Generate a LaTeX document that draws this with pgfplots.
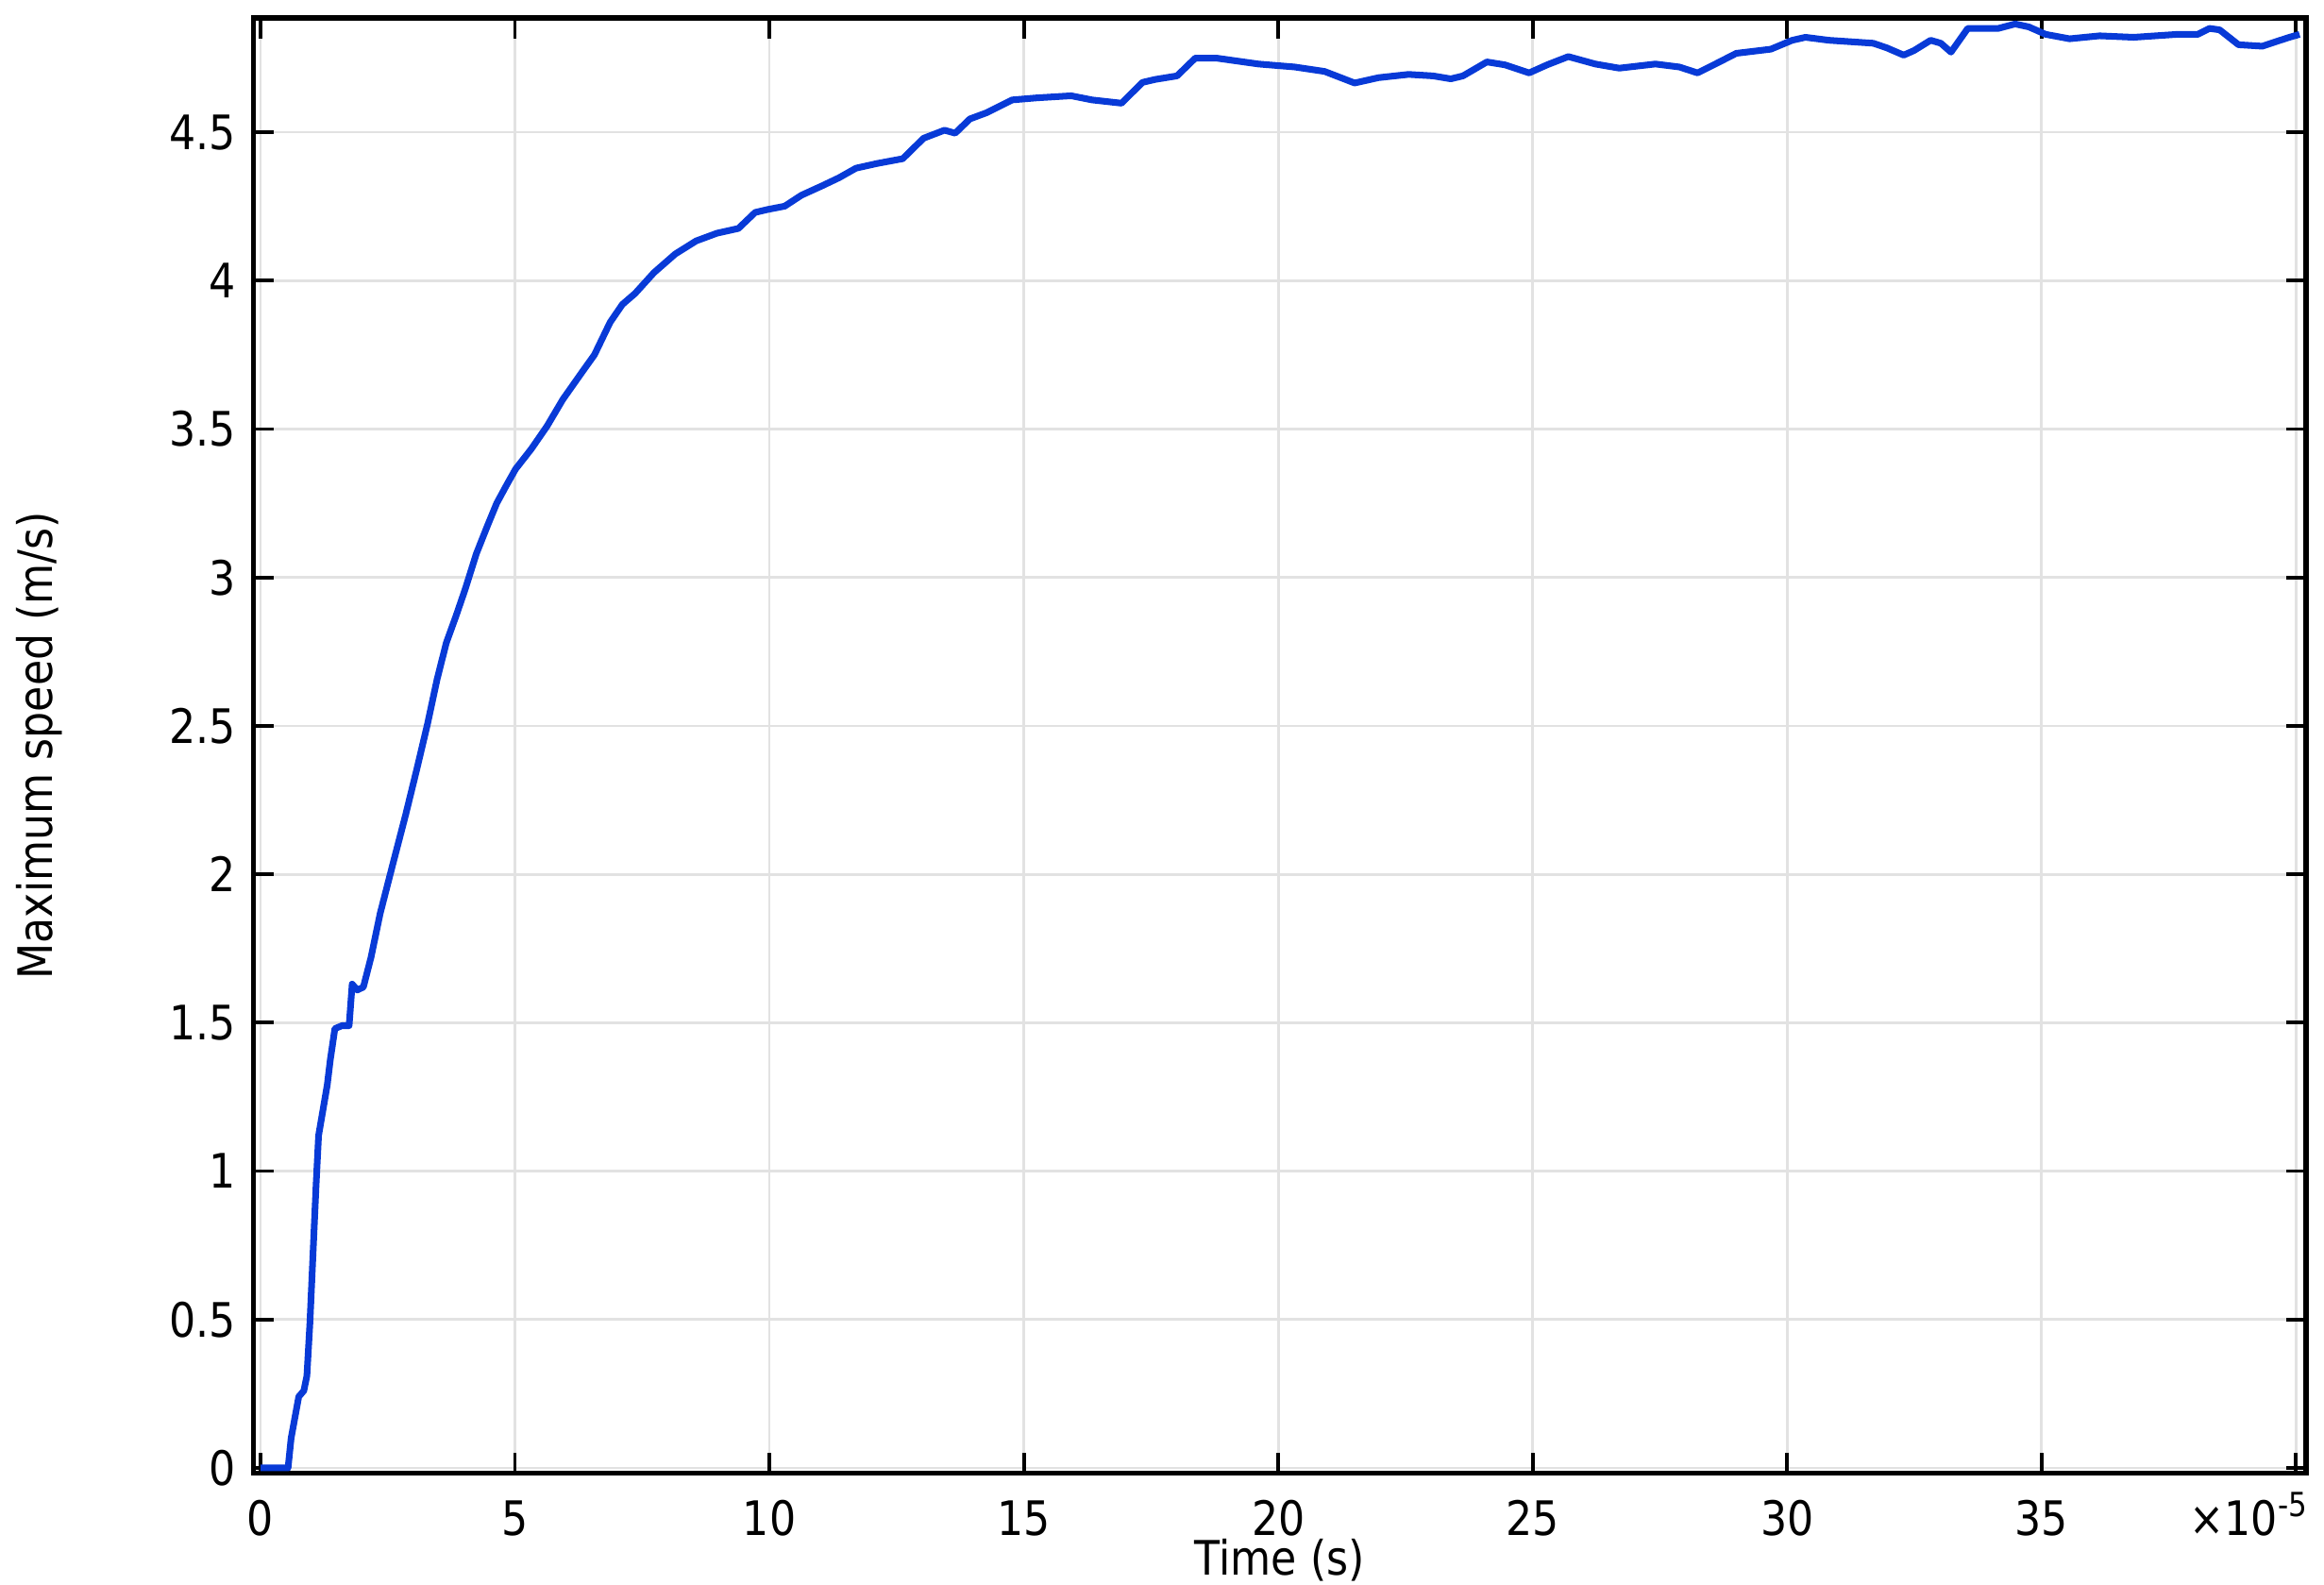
\documentclass[border=0pt]{standalone}
\usepackage{pgfplots}
\pgfplotsset{compat=1.18}
\usepackage{fontspec}
\setmainfont{DejaVu Sans}[FakeStretch=0.88]
\definecolor{curve}{RGB}{8,58,215}
\definecolor{gridc}{RGB}{226,226,226}
\newcommand{\lblfont}{\fontsize{9.3}{11}\selectfont}
\begin{document}
\begin{tikzpicture}
\begin{axis}[
  scale only axis, width=14.132cm, height=10.016cm,
  xmin=-0.14, xmax=40.2, ymin=-0.017, ymax=4.885,
  xtick={0,5,10,15,20,25,30,35,40},
  xticklabels={0,5,10,15,20,25,30,35,{}},
  ytick={0,0.5,1,1.5,2,2.5,3,3.5,4,4.5},
  yticklabels={0,0.5,1,1.5,2,2.5,3,3.5,4,4.5},
  tick align=inside,
  xtick pos=both, ytick pos=both,
  major tick length=0.14cm,
  tick style={black, line width=0.7pt},
  axis line style={line width=1pt},
  grid=major, major grid style={gridc, line width=0.5pt},
  tick label style={font=\lblfont},
  label style={font=\lblfont},
  x tick label style={anchor=base, yshift=-0.433cm, inner sep=0pt},
  xlabel={Time (s)}, ylabel={Maximum speed (m/s)},
  xlabel style={at={(axis description cs:0.5,-0.0699)}, anchor=base, inner sep=0pt},
  ylabel style={at={(axis description cs:-0.10437,0.5)}, anchor=center},
]
\addplot[curve, line width=1.3pt, line join=round] coordinates {
(0,0) (0.54,0) (0.60,0.10) (0.75,0.24) (0.85,0.26) (0.91,0.31) (0.97,0.49)
(1.03,0.72) (1.09,0.95) (1.14,1.12) (1.22,1.20) (1.31,1.29) (1.37,1.375)
(1.46,1.48) (1.60,1.49) (1.74,1.49) (1.80,1.63) (1.90,1.61) (2.02,1.62)
(2.17,1.72) (2.35,1.868) (2.60,2.035) (2.85,2.20) (3.07,2.354) (3.28,2.506)
(3.47,2.658) (3.65,2.78) (3.84,2.87) (4.02,2.96) (4.24,3.08) (4.46,3.175)
(4.64,3.25) (4.83,3.31) (5.01,3.365) (5.32,3.433) (5.63,3.51) (5.94,3.60)
(6.31,3.69) (6.56,3.75) (6.87,3.86) (7.11,3.92) (7.36,3.957) (7.73,4.027)
(8.15,4.09) (8.56,4.134) (8.97,4.16) (9.39,4.176) (9.72,4.23) (9.97,4.24)
(10.30,4.251) (10.63,4.288) (11.04,4.32) (11.37,4.347) (11.70,4.379)
(12.12,4.395) (12.62,4.411) (13.03,4.48) (13.44,4.507) (13.65,4.497)
(13.94,4.545) (14.27,4.566) (14.77,4.609) (15.26,4.616) (15.93,4.623)
(16.34,4.609) (16.92,4.598) (17.33,4.668) (17.58,4.678) (18.01,4.69)
(18.37,4.75) (18.78,4.75) (19.61,4.73) (20.32,4.72) (20.91,4.705)
(21.5,4.666) (21.97,4.684) (22.56,4.695) (23.04,4.69) (23.39,4.68)
(23.63,4.69) (24.1,4.737) (24.46,4.727) (24.93,4.70) (25.28,4.727)
(25.70,4.755) (26.23,4.73) (26.70,4.716) (27.41,4.73) (27.88,4.72)
(28.24,4.70) (28.59,4.73) (29.0,4.766) (29.68,4.78) (30.1,4.81)
(30.36,4.82) (30.82,4.81) (31.69,4.80) (31.95,4.785) (32.29,4.76)
(32.49,4.775) (32.82,4.81) (33.02,4.80) (33.22,4.77) (33.55,4.85)
(33.88,4.85) (34.15,4.85) (34.48,4.865) (34.75,4.855) (35.08,4.83)
(35.55,4.815) (36.14,4.825) (36.81,4.82) (37.67,4.83) (38.07,4.83)
(38.30,4.85) (38.50,4.845) (38.87,4.795) (39.34,4.79) (39.6,4.805)
(39.87,4.82) (40.07,4.83)
};
\end{axis}
\node[anchor=base east, font=\lblfont, inner sep=0pt]
  at ([xshift=0.03cm,yshift=-0.433cm]current axis.south east) {×10\textsuperscript{-5}};
\pgfresetboundingbox
\path ([xshift=-1.745cm,yshift=-0.765cm]current axis.south west) rectangle ++(16cm,10.905cm);
\end{tikzpicture}
\end{document}
